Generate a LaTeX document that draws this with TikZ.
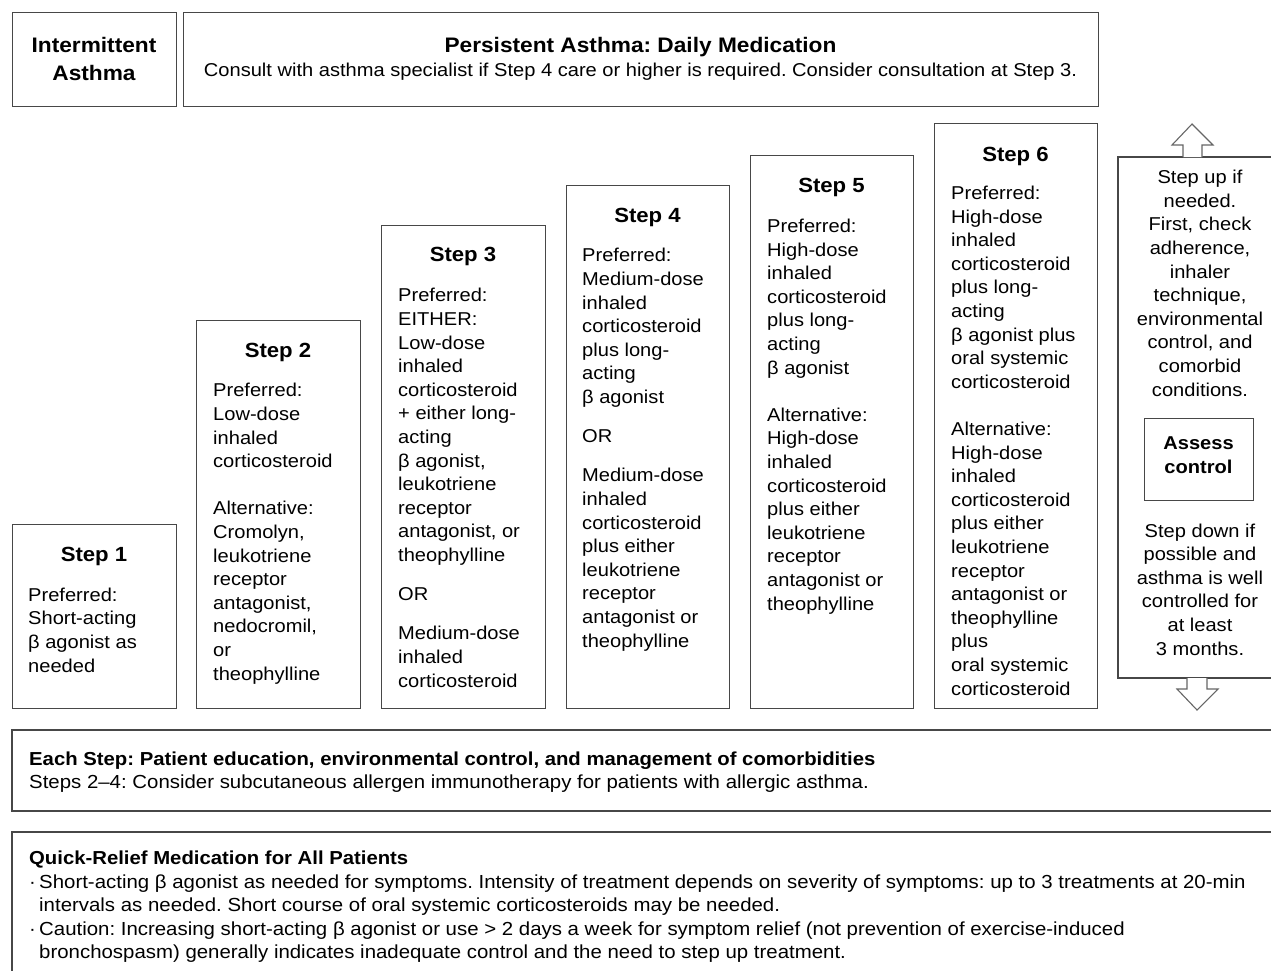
\documentclass[tikz,border=0pt]{standalone}
\usepackage{fontspec}
\setmainfont{Liberation Sans}[FakeStretch=1.08]
\frenchspacing
\begin{document}
\begin{tikzpicture}[x=1pt,y=-1pt,
  box/.style={draw=black!72,line width=1.4pt,inner sep=0pt,anchor=north west},
  frame/.style={draw=black!72,line width=1.4pt},
  bodytxt/.style={font=\fontsize{18.6}{23.6}\selectfont,align=left,inner sep=0pt,anchor=base west,text=black},
  ctrtxt/.style={font=\fontsize{18.6}{23.6}\selectfont,align=center,inner sep=0pt,anchor=base,text=black},
  headtxt/.style={font=\bfseries\fontsize{20.5}{24}\selectfont,inner sep=0pt,anchor=base,text=black},
  bigtxt/.style={font=\bfseries\fontsize{21}{28}\selectfont,align=center,inner sep=0pt,anchor=base,text=black},
  smalltxt/.style={font=\fontsize{18.9}{23.6}\selectfont,align=left,inner sep=0pt,anchor=base west,text=black},
  smallbold/.style={font=\bfseries\fontsize{18.8}{23.6}\selectfont,inner sep=0pt,anchor=base west,text=black},
  arrowshape/.style={draw=black!60,line width=1.1pt,fill=white,line join=miter}]
\useasboundingbox (0,0) rectangle (1271,970);

% top boxes
\node[box,minimum width=164,minimum height=94] (intbox) at (12,12) {};
\node[box,minimum width=915,minimum height=94] (perbox) at (183,12) {};
\node[bigtxt] (inttxt) at (94,80) {Intermittent\\Asthma};
\node[bigtxt] (pertitle) at (640.5,52.5) {Persistent Asthma: Daily Medication};
\node[ctrtxt] (perconsult) at (640.5,76) {Consult with asthma specialist if Step 4 care or higher is required. Consider consultation at Step 3.};

% step boxes
\node[box,minimum width=164,minimum height=184] (s1) at (12,524) {};
\node[box,minimum width=164,minimum height=388] (s2) at (196,320) {};
\node[box,minimum width=164,minimum height=483] (s3) at (381,225) {};
\node[box,minimum width=163,minimum height=523] (s4) at (566,185) {};
\node[box,minimum width=163,minimum height=553] (s5) at (750,155) {};
\node[box,minimum width=163,minimum height=585] (s6) at (934,123) {};

\node[headtxt] (h1) at (94,561) {Step 1};
\node[headtxt] (h2) at (278,357) {Step 2};
\node[headtxt] (h3) at (463,261) {Step 3};
\node[headtxt] (h4) at (647.5,222) {Step 4};
\node[headtxt] (h5) at (831.5,192) {Step 5};
\node[headtxt] (h6) at (1015.5,161) {Step 6};

\node[bodytxt] (b1) at (28,672) {Preferred:\\Short-acting\\β agonist as\\needed};
\node[bodytxt] (b2) at (213,680) {Preferred:\\Low-dose\\inhaled\\corticosteroid\\[23.6pt]Alternative:\\Cromolyn,\\leukotriene\\receptor\\antagonist,\\nedocromil,\\or\\theophylline};
\node[bodytxt] (b3) at (398,687) {Preferred:\\EITHER:\\Low-dose\\inhaled\\corticosteroid\\+ either long-\\acting\\β agonist,\\leukotriene\\receptor\\antagonist, or\\theophylline\\[15.6pt]OR\\[15.6pt]Medium-dose\\inhaled\\corticosteroid};
\node[bodytxt] (b4) at (582,647) {Preferred:\\Medium-dose\\inhaled\\corticosteroid\\plus long-\\acting\\β agonist\\[15.6pt]OR\\[15.6pt]Medium-dose\\inhaled\\corticosteroid\\plus either\\leukotriene\\receptor\\antagonist or\\theophylline};
\node[bodytxt] (b5) at (767,610) {Preferred:\\High-dose\\inhaled\\corticosteroid\\plus long-\\acting\\β agonist\\[23.6pt]Alternative:\\High-dose\\inhaled\\corticosteroid\\plus either\\leukotriene\\receptor\\antagonist or\\theophylline};
\node[bodytxt] (b6) at (951,695) {Preferred:\\High-dose\\inhaled\\corticosteroid\\plus long-\\acting\\β agonist plus\\oral systemic\\corticosteroid\\[23.6pt]Alternative:\\High-dose\\inhaled\\corticosteroid\\plus either\\leukotriene\\receptor\\antagonist or\\theophylline\\plus\\oral systemic\\corticosteroid};

% right column
\draw[frame] (1271,157) -| (1118,678) -- (1271,678);
\draw[arrowshape] (1183,157) -- (1183,145) -- (1172,145) -- (1192,124) -- (1213,145) -- (1202,145) -- (1202,157);
\draw[arrowshape] (1187,678) -- (1187,689) -- (1177,689) -- (1197,710) -- (1218,689) -- (1207,689) -- (1207,678);
\node[ctrtxt] (stepup) at (1200,396) {Step up if\\needed.\\First, check\\adherence,\\inhaler\\technique,\\environmental\\control, and\\comorbid\\conditions.};
\node[box,minimum width=109,minimum height=82] (assess) at (1144,418) {};
\node[ctrtxt,font=\bfseries\fontsize{18.6}{23.6}\selectfont] (assesstxt) at (1198.5,473) {Assess\\control};
\node[ctrtxt] (stepdown) at (1200,655) {Step down if\\possible and\\asthma is well\\controlled for\\at least\\3 months.};

% bottom boxes
\draw[frame] (1271,730) -| (12,811) -- (1271,811);
\draw[frame] (1271,832) -| (12,975);
\node[smallbold] (each) at (29,765) {Each Step: Patient education, environmental control, and management of comorbidities};
\node[smalltxt] (steps24) at (29,788) {Steps 2–4: Consider subcutaneous allergen immunotherapy for patients with allergic asthma.};
\node[smallbold] (qr) at (29,864) {Quick-Relief Medication for All Patients};
\node[smalltxt] (bul1) at (29,888) {·};
\node[smalltxt] (qr1) at (39,911.6) {Short-acting β agonist as needed for symptoms. Intensity of treatment depends on severity of symptoms: up to 3 treatments at 20-min\\intervals as needed. Short course of oral systemic corticosteroids may be needed.};
\node[smalltxt] (bul2) at (29,935) {·};
\node[smalltxt] (qr2) at (39,958.6) {Caution: Increasing short-acting β agonist or use > 2 days a week for symptom relief (not prevention of exercise-induced\\bronchospasm) generally indicates inadequate control and the need to step up treatment.};
\end{tikzpicture}
\end{document}
